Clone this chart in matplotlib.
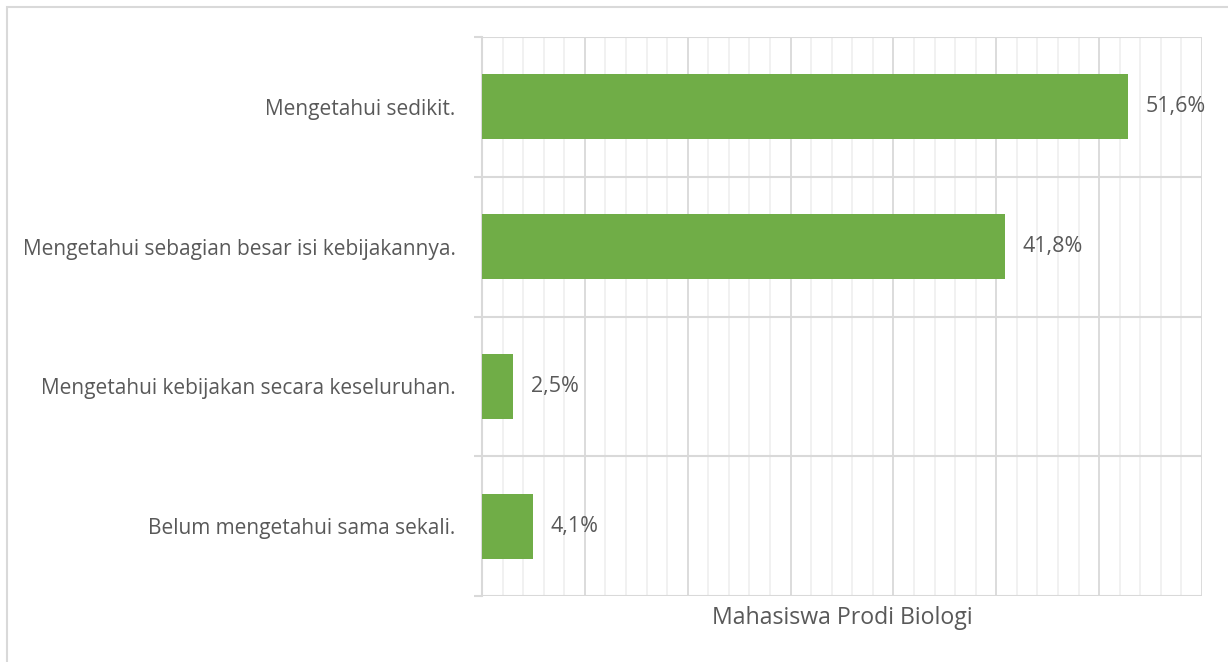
import numpy as np
import matplotlib.pyplot as plt
from matplotlib.patches import Rectangle

# data (top to bottom as shown)
categories = ["Mengetahui sedikit.",
              "Mengetahui sebagian besar isi kebijakannya.",
              "Mengetahui kebijakan secara keseluruhan.",
              "Belum mengetahui sama sekali."]
values = [0.516, 0.418, 0.025, 0.041]
value_labels = ["51,6%", "41,8%", "2,5%", "4,1%"]
series_name = "Mahasiswa Prodi Biologi"

plt.rcParams['font.family'] = ['Open Sans', 'DejaVu Sans']
text_color = '#595959'
grid_major = '#d9d9d9'
grid_minor = '#f0f0f0'

fig = plt.figure(figsize=(12.28, 6.62), dpi=100)
ax = fig.add_axes([482 / 1228, 1 - 596 / 662, 720 / 1228, 559 / 662])

y = np.arange(len(categories))
ax.barh(y, values, height=0.465, color='#70ad47', zorder=3)

xmax = 0.575
ax.set_xlim(0, xmax)
ax.set_ylim(len(categories) - 0.5, -0.5)

ax.set_xticks(np.linspace(0, xmax, 8))
ax.set_xticks(np.linspace(0, xmax, 36), minor=True)
ax.set_yticks(y)
ax.set_yticklabels(categories)
ax.set_yticks(np.arange(-0.5, len(categories)), minor=True)

ax.xaxis.grid(True, which='major', color=grid_major, lw=1.3, zorder=1)
ax.xaxis.grid(True, which='minor', color=grid_minor, lw=1.3, zorder=0)
ax.yaxis.grid(True, which='minor', color=grid_major, lw=1.5, zorder=2)
ax.tick_params(axis='x', which='both', length=0, labelbottom=False)
ax.tick_params(axis='y', which='major', length=0, pad=19, labelsize=15,
               labelcolor=text_color)
ax.tick_params(axis='y', which='minor', length=6, width=1.5, color=grid_major)

for side in ['top', 'right', 'bottom']:
    ax.spines[side].set_visible(False)
ax.spines['left'].set_color(grid_major)
ax.spines['left'].set_linewidth(1.5)

for yi, v, lab in zip(y, values, value_labels):
    ax.text(v + 0.014, yi, lab, va='center', ha='left', fontsize=15.5,
            color=text_color)

fig.text(842 / 1228, 1 - 618 / 662, series_name, ha='center', va='center',
         fontsize=16.7, color=text_color)

# chart border
fig.patches.append(Rectangle((7 / 1228, -0.05), 1.2, 1 - 7 / 662 + 0.05,
                             transform=fig.transFigure, fill=False,
                             edgecolor='#d9d9d9', lw=1.5))

fig.savefig('out.png', dpi=100, facecolor='white')
